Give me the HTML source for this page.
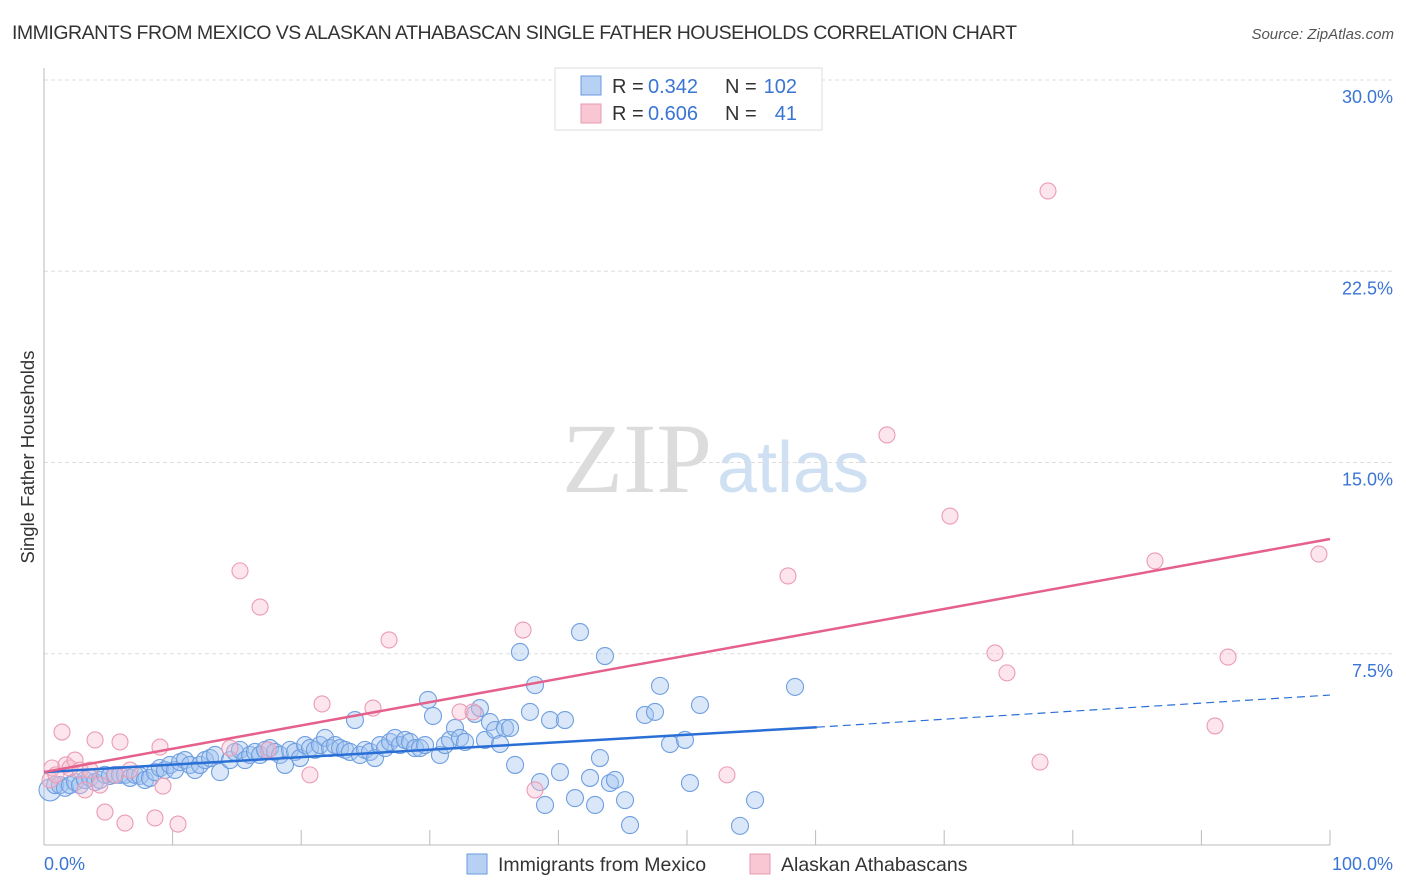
<!DOCTYPE html>
<html><head><meta charset="utf-8">
<style>
body{margin:0;background:#fff;font-family:"Liberation Sans",sans-serif;}
#wrap{position:relative;width:1406px;height:892px;overflow:hidden;}
</style></head>
<body>
<div id="wrap">
<svg id="chart" width="1406" height="892" xmlns="http://www.w3.org/2000/svg">
  <text x="12" y="39" font-size="19.5" fill="#333" textLength="1005">IMMIGRANTS FROM MEXICO VS ALASKAN ATHABASCAN SINGLE FATHER HOUSEHOLDS CORRELATION CHART</text>
  <text x="1394" y="39" font-size="15" fill="#555" font-style="italic" text-anchor="end">Source: ZipAtlas.com</text>
  <text x="712" y="492" font-size="100" fill="#dcdcdc" text-anchor="end" font-family="Liberation Serif,serif">ZIP</text>
  <text x="717" y="492" font-size="72" fill="#cfe0f3">atlas</text>
  <g id="grid"></g>
  <g id="pts"></g>
  <g id="lines"></g>
  <text transform="translate(34,457) rotate(-90)" font-size="18.5" fill="#333" text-anchor="middle">Single Father Households</text>
  <text x="44" y="870" font-size="18" fill="#3a75d4">0.0%</text>
  <text x="1393" y="870" font-size="18" fill="#3a75d4" text-anchor="end">100.0%</text>
  <g>
    <rect x="555" y="68" width="267" height="62" fill="#fff" stroke="#ddd"/>
    <rect x="581" y="76" width="20" height="19" fill="#b6d1f3" stroke="#6b9ae0"/>
    <rect x="581" y="104" width="20" height="19" fill="#f9c6d4" stroke="#e89ab2"/>
    <text x="612" y="93" font-size="20" fill="#333">R =</text>
    <text x="648" y="93" font-size="20" fill="#3a75d4">0.342</text>
    <text x="725" y="93" font-size="20" fill="#333">N =</text>
    <text x="797" y="93" font-size="20" fill="#3a75d4" text-anchor="end">102</text>
    <text x="612" y="120" font-size="20" fill="#333">R =</text>
    <text x="648" y="120" font-size="20" fill="#3a75d4">0.606</text>
    <text x="725" y="120" font-size="20" fill="#333">N =</text>
    <text x="797" y="120" font-size="20" fill="#3a75d4" text-anchor="end">41</text>
  </g>
  <g>
    <rect x="467" y="854" width="20" height="20" fill="#b6d1f3" stroke="#6b9ae0"/>
    <text x="498" y="871" font-size="19.5" fill="#333">Immigrants from Mexico</text>
    <rect x="750" y="854" width="20" height="20" fill="#f9c6d4" stroke="#e89ab2"/>
    <text x="781" y="871" font-size="19.5" fill="#333">Alaskan Athabascans</text>
  </g>
</svg>
</div>
<script>
const yTicks=[7.5,15,22.5,30];
const yTickLabels=["7.5%","15.0%","22.5%","30.0%"];
const xTicks=[10,20,30,40,50,60,70,80,90,100];
const mexicoXpx=[50,55,60,65,70,75,80,85,90,95,100,105,110,115,120,125,130,135,140,145,150,155,160,165,170,175,180,185,190,195,200,205,210,215,220,230,235,240,245,250,255,260,265,270,275,280,285,290,295,300,305,310,315,320,325,330,335,340,345,350,355,360,365,370,375,380,385,390,395,400,405,410,415,420,425,428,433,440,445,450,455,460,465,475,480,485,490,495,500,505,510,515,520,530,535,540,545,550,560,565,575,580,590,595,600,605,610,615,625,630,645,655,660,670,685,690,700,740,755,795];
const mexicoYpx=[790,785,785,788,785,782,785,780,778,782,780,775,776,775,775,775,778,775,776,780,778,772,768,770,765,770,762,760,765,770,765,760,758,755,772,760,752,750,760,755,752,755,750,748,752,755,765,750,752,758,745,748,750,745,738,748,745,748,750,752,720,755,750,752,758,745,748,742,738,745,740,742,748,748,745,700,716,755,745,740,728,738,742,714,708,740,722,730,744,728,728,765,652,712,685,782,805,720,772,720,798,632,778,805,758,656,783,780,800,825,715,712,686,744,740,783,705,826,800,687];
const athXpx=[50,52,56,62,66,70,75,80,85,90,95,100,105,115,120,125,130,155,160,163,178,230,240,260,268,310,322,373,389,460,473,523,535,727,788,887,950,995,1007,1040,1048,1155,1215,1228,1319];
const athYpx=[780,768,775,732,765,768,760,770,790,770,740,785,812,775,742,823,770,818,747,786,824,748,571,607,750,775,704,708,640,712,712,630,790,775,576,435,516,653,673,762,191,561,726,657,554];
const mexicoX=mexicoXpx.map(p=>+((p-44)/12.86).toFixed(2));
const mexicoY=mexicoYpx.map(p=>+((845-p)/25.5).toFixed(2));
const athX=athXpx.map(p=>+((p-44)/12.86).toFixed(2));
const athY=athYpx.map(p=>+((845-p)/25.5).toFixed(2));
const mexicoTrend=[2.86,4.62,5.88];
const athTrend=[2.86,12.0];

const X=v=>44+v*12.86, Y=v=>845-v*25.5;
const NS="http://www.w3.org/2000/svg";
function mk(t,a,parent){const e=document.createElementNS(NS,t);for(const k in a)e.setAttribute(k,a[k]);parent.appendChild(e);return e;}
const grid=document.getElementById('grid');
yTicks.forEach((v,i)=>{
  const l=mk('line',{x1:44,x2:1394,y1:Y(v),y2:Y(v),stroke:'#ddd','stroke-dasharray':'4,3'},grid);
  
  
  const t=mk('text',{x:1393,y:Y(v)+23,'font-size':18,fill:'#3a75d4','text-anchor':'end'},grid);
  t.textContent=yTickLabels[i];
  
  
});
const ax=mk('line',{x1:44,x2:44,y1:68,y2:845,stroke:'#bbb'},grid);


const bx=mk('line',{x1:44,x2:1330,y1:845,y2:845,stroke:'#bbb'},grid);


xTicks.forEach(v=>{
  const t=mk('line',{x1:X(v),x2:X(v),y1:830,y2:845,stroke:'#bbb'},grid);
  
  
});
const pts=document.getElementById('pts');
mexicoX.forEach((x,i)=>{
  const c=mk('circle',{cx:X(x),cy:Y(mexicoY[i]),r:i==0?11:8.5,fill:'rgba(160,196,240,0.4)',stroke:'#6f9fe0','stroke-width':1.1},pts);
  
  
});
athX.forEach((x,i)=>{
  const c=mk('circle',{cx:X(x),cy:Y(athY[i]),r:8,fill:'rgba(248,190,208,0.4)',stroke:'#eb9bb4','stroke-width':1.1},pts);
  
  
});
const lines=document.getElementById('lines');
const l1=mk('line',{x1:X(0),y1:Y(mexicoTrend[0]),x2:X(60.1),y2:Y(mexicoTrend[1]),stroke:'#2a6fd6','stroke-width':2.5},lines);


const l2=mk('line',{x1:X(60.1),y1:Y(mexicoTrend[1]),x2:X(100),y2:Y(mexicoTrend[2]),stroke:'#2a6fd6','stroke-width':1.2,'stroke-dasharray':'8,5'},lines);


const l3=mk('line',{x1:X(0),y1:Y(athTrend[0]),x2:X(100),y2:Y(athTrend[1]),stroke:'#e5608a','stroke-width':2.5},lines);


</script>
</body></html>
